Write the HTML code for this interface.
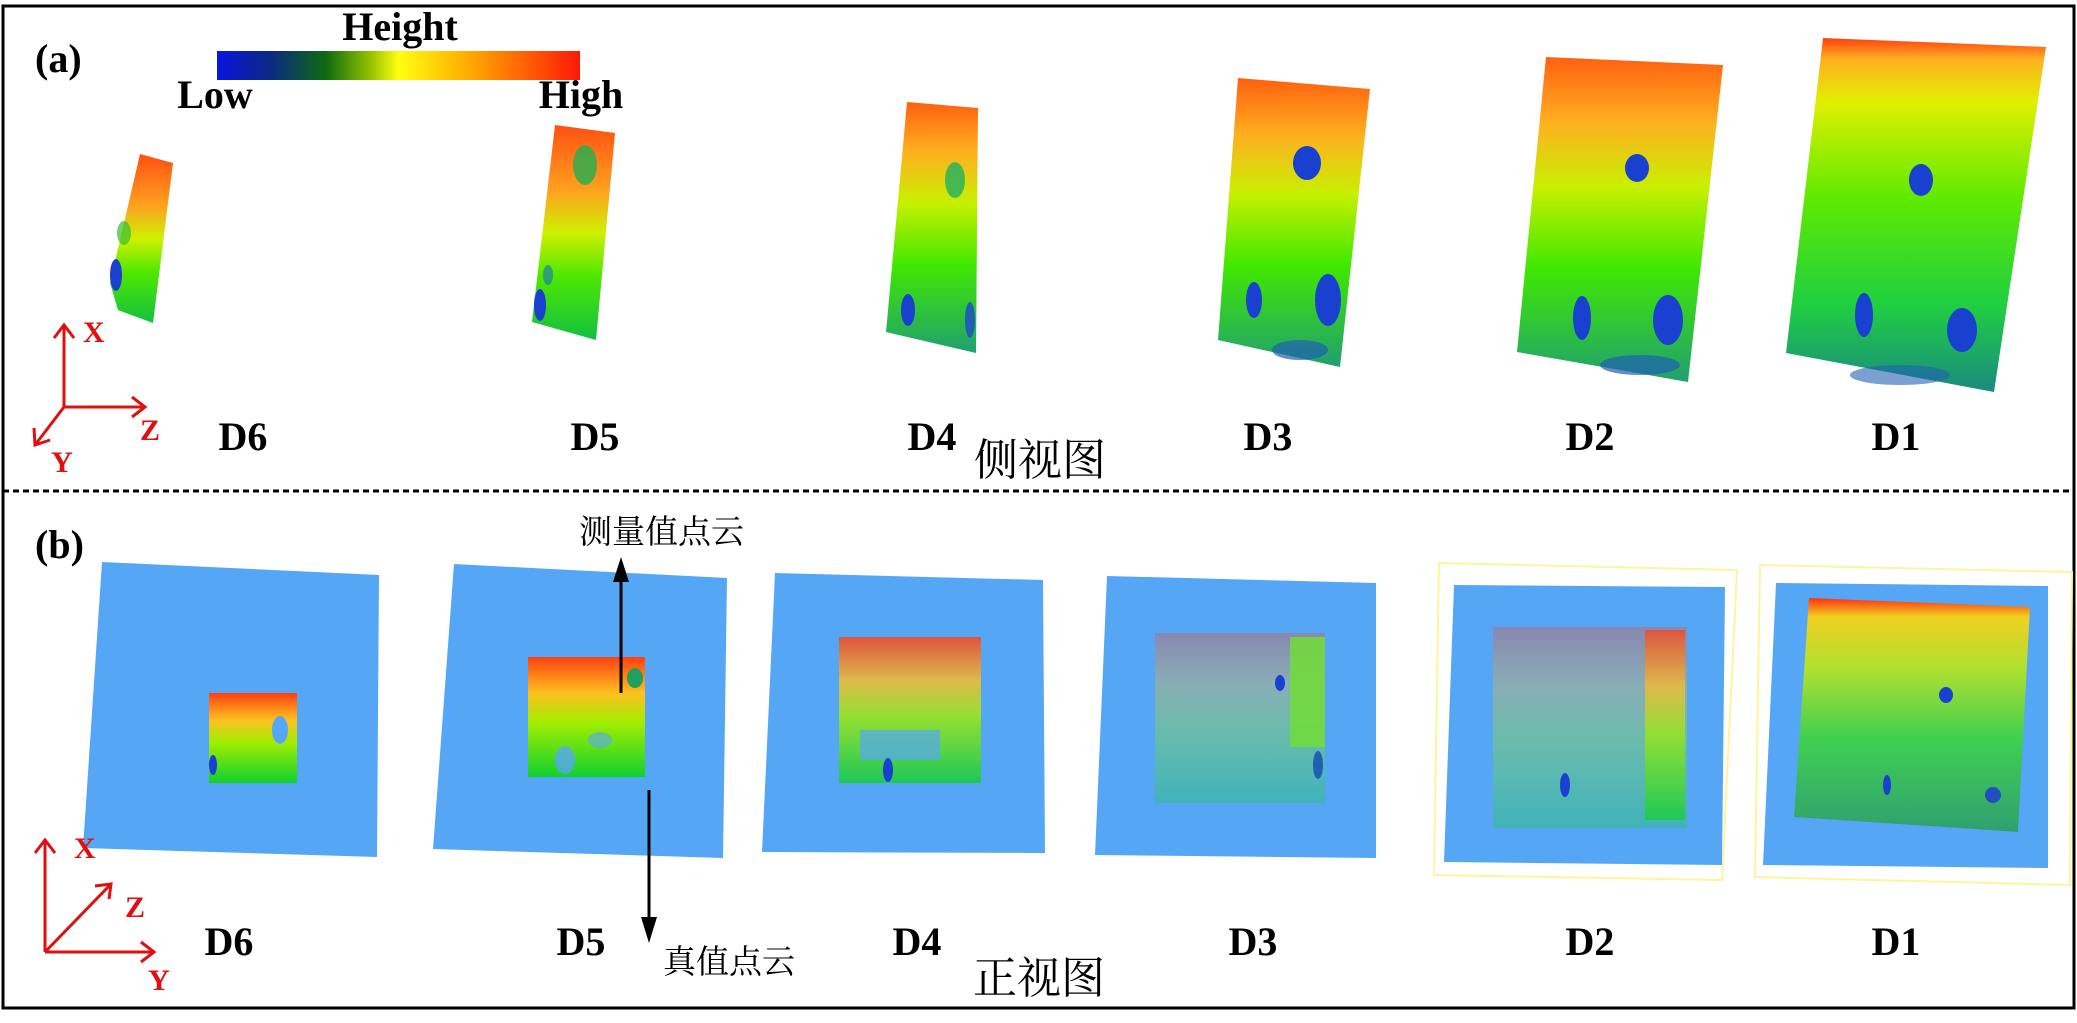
<!DOCTYPE html>
<html><head><meta charset="utf-8"><style>
html,body{margin:0;padding:0;background:#fff;}
svg{display:block;}
.lbl{font-family:"Liberation Serif",serif;font-weight:bold;font-size:40px;fill:#000;}
.cn{font-family:"Liberation Serif","Noto Serif CJK SC",serif;fill:#000;}
.ax{font-family:"Liberation Serif",serif;font-weight:bold;font-size:30px;fill:#e01010;}
</style></head><body>
<svg width="2077" height="1023" viewBox="0 0 2077 1023" xmlns="http://www.w3.org/2000/svg">
<defs>
<linearGradient id="cbar" x1="0" x2="1" y1="0" y2="0">
<stop offset="0" stop-color="#0a14e0"/><stop offset="0.15" stop-color="#0a2a80"/><stop offset="0.3" stop-color="#0f6a10"/>
<stop offset="0.42" stop-color="#90c000"/><stop offset="0.5" stop-color="#ffff10"/><stop offset="0.7" stop-color="#ffa800"/><stop offset="1" stop-color="#ff1808"/></linearGradient>
<linearGradient id="gWarm" x1="0" x2="0" y1="0" y2="1">
<stop offset="0" stop-color="#ff5010"/><stop offset="0.3" stop-color="#ffa020"/><stop offset="0.5" stop-color="#d0f000"/><stop offset="0.7" stop-color="#50e800"/><stop offset="1" stop-color="#10c040"/></linearGradient>
<linearGradient id="gMid" x1="0" x2="0" y1="0" y2="1">
<stop offset="0" stop-color="#ff6010"/><stop offset="0.2" stop-color="#ffb020"/><stop offset="0.4" stop-color="#c8f000"/><stop offset="0.65" stop-color="#40e800"/><stop offset="1" stop-color="#20a070"/></linearGradient>
<linearGradient id="gCool" x1="0" x2="0" y1="0" y2="1">
<stop offset="0" stop-color="#ff4010"/><stop offset="0.06" stop-color="#ffb020"/><stop offset="0.18" stop-color="#e0f000"/><stop offset="0.45" stop-color="#60ea00"/><stop offset="0.75" stop-color="#20d040"/><stop offset="1" stop-color="#1a8a80"/></linearGradient>
<linearGradient id="gFront" x1="0" x2="0" y1="0" y2="1">
<stop offset="0" stop-color="#ff4010"/><stop offset="0.3" stop-color="#ffc020"/><stop offset="0.55" stop-color="#a0ee00"/><stop offset="1" stop-color="#10d030"/></linearGradient>
<linearGradient id="gFront1" x1="0" x2="0" y1="0" y2="1">
<stop offset="0" stop-color="#ff3010"/><stop offset="0.08" stop-color="#f0d020"/><stop offset="0.3" stop-color="#b0e030"/><stop offset="0.6" stop-color="#40d050"/><stop offset="1" stop-color="#30a070"/></linearGradient>
</defs>

<rect x="3" y="6" width="2071" height="1002" fill="#fff" stroke="#000" stroke-width="3"/>
<line x1="3" y1="491" x2="2074" y2="491" stroke="#000" stroke-width="3" stroke-dasharray="6,4"/>

<text x="35" y="72" class="lbl" font-size="44">(a)</text>
<text x="400" y="40" class="lbl" font-size="28" text-anchor="middle">Height</text>
<rect x="217" y="51" width="363" height="29" fill="url(#cbar)"/>
<text x="215" y="108" class="lbl" font-size="28" text-anchor="middle">Low</text>
<text x="581" y="108" class="lbl" font-size="28" text-anchor="middle">High</text>

<g>
<polygon points="140,154 173,163 153,323 118,310 110,283" fill="url(#gWarm)"/>
<ellipse cx="116" cy="275" rx="6" ry="16" fill="#1a40d0"/><ellipse cx="124" cy="233" rx="7" ry="12" fill="#30c030" opacity="0.7"/></g>
<g>
<polygon points="555,125 615,133 596,340 532,322" fill="url(#gWarm)"/>
<ellipse cx="585" cy="165" rx="12" ry="20" fill="#20b050" opacity="0.8"/><ellipse cx="540" cy="305" rx="6" ry="16" fill="#1a40d0"/><ellipse cx="548" cy="275" rx="5" ry="10" fill="#2080a0" opacity="0.7"/></g>
<g>
<polygon points="907,102 978,108 976,353 886,332" fill="url(#gMid)"/>
<ellipse cx="955" cy="180" rx="10" ry="18" fill="#20b060" opacity="0.8"/><ellipse cx="908" cy="310" rx="7" ry="16" fill="#1a40d0"/><ellipse cx="970" cy="320" rx="5" ry="18" fill="#2060b0"/></g>
<g>
<polygon points="1238,78 1370,89 1340,367 1218,340" fill="url(#gMid)"/>
<ellipse cx="1307" cy="163" rx="14" ry="17" fill="#1a40d0"/><ellipse cx="1254" cy="300" rx="8" ry="18" fill="#1a40d0"/><ellipse cx="1328" cy="300" rx="13" ry="26" fill="#1a40d0"/><ellipse cx="1300" cy="350" rx="28" ry="10" fill="#2060b0" opacity="0.7"/></g>
<g>
<polygon points="1546,57 1723,65 1688,382 1517,352" fill="url(#gMid)"/>
<ellipse cx="1637" cy="168" rx="12" ry="14" fill="#1a40d0"/><ellipse cx="1582" cy="318" rx="9" ry="22" fill="#1a40d0"/><ellipse cx="1668" cy="320" rx="15" ry="25" fill="#1a40d0"/><ellipse cx="1640" cy="365" rx="40" ry="10" fill="#2060b0" opacity="0.7"/></g>
<g>
<polygon points="1823,38 2046,47 1994,392 1786,353" fill="url(#gCool)"/>
<ellipse cx="1921" cy="180" rx="12" ry="16" fill="#1a40d0"/><ellipse cx="1864" cy="315" rx="9" ry="22" fill="#1a40d0"/><ellipse cx="1962" cy="330" rx="15" ry="22" fill="#1a40d0"/><ellipse cx="1900" cy="375" rx="50" ry="10" fill="#2060b0" opacity="0.6"/></g>

<g stroke="#e01010" stroke-width="3" fill="none">
<line x1="64" y1="407" x2="64" y2="325"/><polyline points="54,338 64,325 74,338"/>
<line x1="64" y1="407" x2="145" y2="407"/><polyline points="132,397 145,407 132,417"/>
<line x1="64" y1="407" x2="35" y2="445"/><polyline points="34,428 35,445 50,440"/></g>
<text x="83" y="342" class="ax">X</text>
<text x="140" y="440" class="ax">Z</text>
<text x="51" y="472" class="ax">Y</text>

<text x="243" y="450" class="lbl" text-anchor="middle">D6</text>
<text x="595" y="450" class="lbl" text-anchor="middle">D5</text>
<text x="932" y="450" class="lbl" text-anchor="middle">D4</text>
<text x="1268" y="450" class="lbl" text-anchor="middle">D3</text>
<text x="1590" y="450" class="lbl" text-anchor="middle">D2</text>
<text x="1896" y="450" class="lbl" text-anchor="middle">D1</text>
<text x="1040" y="475" class="cn" font-size="44" text-anchor="middle">侧视图</text>

<text x="35" y="558" class="lbl" font-size="44">(b)</text>

<g>
<polygon points="102,562 379,575 377,857 83,848" fill="#56a6f6"/>
<rect x="209" y="693" width="88" height="90" fill="url(#gFront)"/>
<ellipse cx="213" cy="765" rx="4" ry="10" fill="#1a40d0"/><ellipse cx="280" cy="730" rx="8" ry="14" fill="#56a6f6"/></g>
<g>
<polygon points="454,564 727,578 723,858 433,849" fill="#56a6f6"/>
<rect x="528" y="657" width="117" height="120" fill="url(#gFront)"/>
<ellipse cx="635" cy="678" rx="8" ry="10" fill="#20a060"/><ellipse cx="565" cy="760" rx="10" ry="14" fill="#56a6f6" opacity="0.8"/><ellipse cx="600" cy="740" rx="12" ry="8" fill="#56a6f6" opacity="0.6"/></g>
<g>
<polygon points="775,573 1043,580 1045,853 762,852" fill="#56a6f6"/>
<rect x="839" y="637" width="142" height="146" fill="url(#gFront)" opacity="0.8"/>
<rect x="860" y="730" width="80" height="30" fill="#56a6f6" opacity="0.7"/><ellipse cx="888" cy="770" rx="5" ry="12" fill="#1a40d0"/></g>
<g>
<polygon points="1107,576 1376,583 1376,858 1095,855" fill="#56a6f6"/>
<rect x="1155" y="633" width="170" height="170" fill="url(#gFront)" opacity="0.3"/>
<rect x="1290" y="637" width="35" height="110" fill="#70e030" opacity="0.8"/>
<ellipse cx="1280" cy="683" rx="5" ry="8" fill="#1a40d0"/><ellipse cx="1318" cy="765" rx="5" ry="14" fill="#2060b0"/></g>
<g>
<polygon points="1439,563 1737,570 1722,880 1434,875" fill="none" stroke="#fff3a0" stroke-width="2"/>
<polygon points="1454,585 1725,587 1722,865 1444,862" fill="#56a6f6"/>
<rect x="1493" y="627" width="194" height="201" fill="url(#gFront)" opacity="0.3"/>
<rect x="1645" y="630" width="40" height="190" fill="url(#gFront)" opacity="0.7"/><ellipse cx="1565" cy="785" rx="5" ry="12" fill="#1a40d0"/></g>
<g>
<polygon points="1760,565 2072,572 2070,885 1755,877" fill="none" stroke="#fff3a0" stroke-width="2"/>
<polygon points="1776,583 2048,586 2048,868 1763,865" fill="#56a6f6"/>
<polygon points="1809,598 2030,607 2018,832 1794,817" fill="url(#gFront1)"/>
<ellipse cx="1946" cy="695" rx="7" ry="8" fill="#1a40d0"/><ellipse cx="1887" cy="785" rx="4" ry="10" fill="#1a40d0"/><ellipse cx="1993" cy="795" rx="8" ry="8" fill="#2050c0"/></g>

<g>
<line x1="621" y1="693" x2="621" y2="572" stroke="#000" stroke-width="3"/>
<polygon points="621,557 613,582 629,582" fill="#000"/></g>
<text x="579" y="543" class="cn" font-size="33">测量值点云</text>
<g>
<line x1="649" y1="790" x2="649" y2="925" stroke="#000" stroke-width="3"/>
<polygon points="649,943 641,917 657,917" fill="#000"/></g>
<text x="663" y="973" class="cn" font-size="33">真值点云</text>

<g stroke="#e01010" stroke-width="3" fill="none">
<line x1="45" y1="952" x2="45" y2="840"/><polyline points="35,853 45,840 55,853"/>
<line x1="45" y1="952" x2="154" y2="952"/><polyline points="141,942 154,952 141,962"/>
<line x1="45" y1="952" x2="111" y2="884"/><polyline points="95,886 111,884 109,899"/></g>
<text x="74" y="858" class="ax">X</text>
<text x="125" y="917" class="ax">Z</text>
<text x="148" y="990" class="ax">Y</text>

<text x="229" y="955" class="lbl" text-anchor="middle">D6</text>
<text x="581" y="955" class="lbl" text-anchor="middle">D5</text>
<text x="917" y="955" class="lbl" text-anchor="middle">D4</text>
<text x="1253" y="955" class="lbl" text-anchor="middle">D3</text>
<text x="1590" y="955" class="lbl" text-anchor="middle">D2</text>
<text x="1896" y="955" class="lbl" text-anchor="middle">D1</text>
<text x="1039" y="993" class="cn" font-size="44" text-anchor="middle">正视图</text>
</svg>
</body></html>
